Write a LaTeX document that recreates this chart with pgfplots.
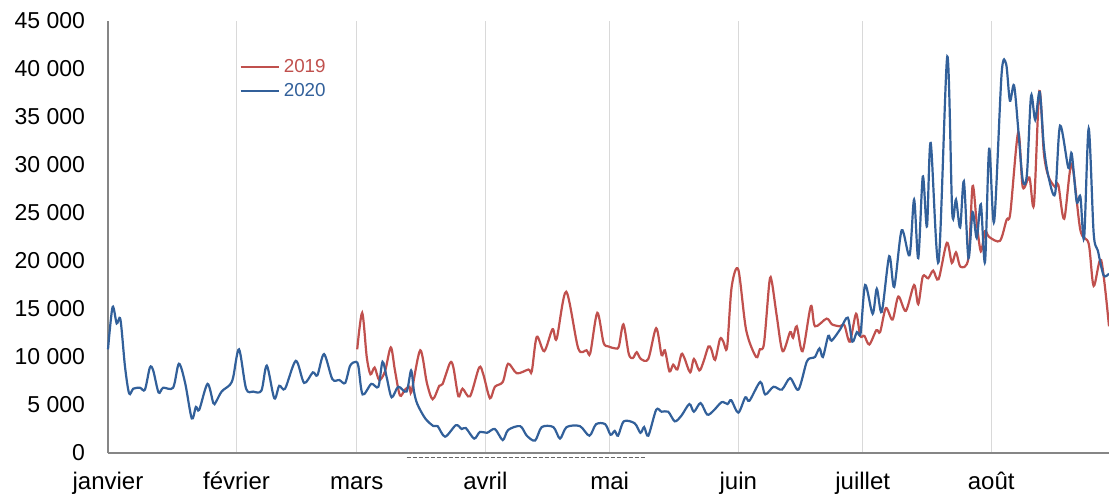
\documentclass[border=0pt]{standalone}
\usepackage{fontspec}
\setmainfont{Liberation Sans}
\usepackage{pgfplots}
\pgfplotsset{compat=1.18}
\definecolor{c19}{HTML}{C0504D}
\definecolor{c20}{HTML}{32609A}
\definecolor{gridc}{HTML}{D9D9D9}
\definecolor{axc}{HTML}{868686}
\begin{document}
\begin{tikzpicture}
\begin{axis}[
  scale only axis, width=500.5pt, height=216pt,
  xmin=0, xmax=241.4, ymin=0, ymax=45000,
  clip=false, scaled y ticks=false,
  axis x line=bottom, axis y line=left,
  axis line style={-, color=axc, line width=0.8pt},
  major tick length=0pt,
  xtick={0,31,60,91,121,152,182,213},
  xticklabels={janvier,février,mars,avril,mai,juin,juillet,août},
  ytick={0,5000,10000,15000,20000,25000,30000,35000,40000,45000},
  yticklabels={0,5 000,10 000,15 000,20 000,25 000,30 000,35 000,40 000,45 000},
  tick label style={font=\fontsize{12}{14}\selectfont, text=black},
  xticklabel style={text height=1.6ex, text depth=0.3ex, yshift=-6.5pt},
  yticklabel style={font=\fontsize{11.5}{14}\selectfont, xshift=-8pt},
  xmajorgrids, grid style={gridc, line width=0.6pt},
  legend style={draw=none, fill=none, at={(axis cs:30.2,41900)}, anchor=north west,
    font=\fontsize{9.4}{10}\selectfont, row sep=0pt},
  legend image code/.code={\draw[#1, line width=1.1pt, sharp plot] (0pt,0pt) -- (19pt,0pt);},
  legend cell align=left,
  every axis plot/.append style={line width=1.1pt, smooth, tension=0.5},
]
\addplot[c19] coordinates {
(60.1,10800)(61.3,14600)(62.4,10000)(63.3,8200)(64.3,8900)(65.4,7600)(66.8,8500)(68.2,11000)
(69.2,8600)(70.4,6000)(71.6,6600)(72.7,6900)(73.2,6400)(75.3,10700)(76.9,7300)(78.3,5600)
(79.9,7000)(80.7,7200)(82.5,9400)(83.3,8900)(84.5,5900)(85.5,6700)(87.3,5900)(89.5,8900)
(90.5,8200)(92.1,5700)(93.3,6900)(95.2,7400)(96.5,9300)(98.6,8300)(101.4,8700)(102.2,8500)
(103.4,12100)(105.2,10600)(107.2,12900)(108.2,11900)(110.5,16800)(113.4,10900)(115.4,10700)
(116.3,10400)(118,14600)(119.5,11500)(120.7,11100)(122.3,10900)(123.2,11100)(124.3,13400)
(125.6,10300)(126.6,9900)(127.5,10500)(128.5,9800)(130.3,9800)(132.2,13000)(133.5,10200)
(134.3,10700)(135.4,8500)(136.3,9200)(137.3,8700)(138.3,10300)(139,9900)(140.4,8400)
(141.3,9800)(142.6,8600)(143.6,9500)(144.8,11100)(145.5,10800)(146.4,9700)(147.6,11900)
(148.4,11600)(149.3,11000)(150.4,17300)(152,19100)(153.9,12800)(156.3,10000)(157.2,10800)
(158.2,11400)(159.5,17800)(160.1,17800)(161.3,14200)(162.7,10600)(164.5,12600)(165.2,12000)
(166.1,13200)(167.5,10600)(169.5,15300)(170.5,13200)(173.3,14000)(174.6,13400)(176.5,13200)
(177.6,13300)(178.9,11600)(180.4,14500)(181.4,12200)(182.4,12200)(183.6,11300)(185.3,12800)
(186.2,12600)(187.6,15100)(189.2,13900)(190.6,16300)(192.4,14800)(194.4,17500)(195.4,15500)
(196.5,18400)(197.8,18200)(199,19000)(200.3,18100)(202.3,21900)(203.5,19800)(204.5,20900)
(205.6,19400)(207.5,20300)(208.5,27800)(209.5,24000)(210.5,21000)(211.5,23100)(212.5,22500)
(215.1,22100)(216.7,24300)(217.6,25000)(219.5,33400)(220.6,27700)(222.2,28700)(223.3,25900)
(224.6,37700)(225.7,31200)(226.8,28800)(228.4,27700)(229.2,27900)(230.6,24400)(232.4,30100)
(234.5,23200)(236.5,21800)(237.7,17400)(239.5,20100)(241.4,13200)
};
\addlegendentry{\textcolor{c19}{2019}}
\addplot[c20] coordinates {
(0,10800)(1.1,15200)(2.1,13500)(3,13900)(4.1,9000)(5.1,6200)(6.1,6700)(7.7,6800)(8.9,6600)
(10.1,8900)(10.9,8600)(12.2,6300)(13.3,6800)(15.7,6800)(17.1,9300)(18.6,7300)(20.2,3600)
(21.2,4800)(22,4500)(24,7200)(25.4,5200)(26,5300)(27.4,6400)(29.4,7100)(30.2,7900)(31.6,10800)
(33.3,6700)(35,6400)(37,6500)(38.3,9100)(40.1,5700)(41.3,7000)(42.7,6700)(45.3,9600)(47.3,7300)
(49.4,8400)(50.5,8100)(52.1,10300)(54.1,7700)(55.8,7600)(57.2,7300)(58.4,9100)(59.8,9500)
(60.4,9000)(61.4,6100)(63.5,7200)(65.2,6900)(66.2,9500)(67.2,7900)(68.4,5800)(70,6900)
(72,6400)(73.1,8600)(73.8,6400)(74.6,5100)(76.5,3600)(78.5,2800)(79.5,2800)(81.3,1700)
(83.9,2900)(85.3,2500)(86.3,2600)(88.3,1500)(89.7,2200)(91.4,2100)(93.3,2500)(95.2,1350)
(96.5,2400)(99.4,2800)(101,1800)(103,1300)(104.6,2700)(107.4,2700)(109,1500)(110.6,2700)
(113.8,2800)(116.1,1800)(117.7,3000)(119.9,3000)(121.2,1900)(122.2,2300)(123,1800)(124.4,3300)
(127,3100)(128.4,2100)(129.3,2700)(130.3,1800)(132.2,4500)(133.5,4300)(135.1,4300)(136.7,3300)
(138.3,3900)(140.2,5100)(141.3,4300)(142.9,5200)(144.5,4000)(146,4400)(148,5300)(149.4,5100)
(150.3,5500)(152,4200)(153.7,5800)(154.7,5450)(157.3,7400)(158.5,6100)(160.5,6900)(162.5,6600)
(164.5,7800)(166.5,6600)(168.5,9500)(169.7,9900)(170.5,10000)(171.6,10900)(172.4,10000)
(173.7,12200)(174.5,11700)(176.6,12900)(178.4,14100)(179.5,11600)(180.6,12600)(181.5,12500)
(182.6,17500)(184.4,14500)(185.4,17100)(186.6,14700)(188.4,20500)(189.6,17300)(191.4,23200)
(193.3,20600)(194.4,26400)(195.4,20300)(196.5,28800)(197.5,23600)(198.4,32300)(200.3,19900)
(202.4,41300)(203.6,25000)(204.5,26400)(205.5,23500)(206.4,28300)(207.5,20300)(208.5,25100)
(209.5,22400)(210.5,25900)(211.5,19900)(212.5,31700)(213.7,24100)(215.5,39500)(216.6,40500)
(217.5,36700)(218.5,38300)(219.5,33800)(220.6,28400)(221.6,29000)(222.6,37200)(223.6,34700)
(224.7,37600)(225.7,31900)(226.8,28800)(228.4,27000)(229.6,34100)(231.6,29700)(232.4,31200)
(233.6,26200)(234.5,26700)(235.4,22400)(236.5,33800)(237.7,22900)(238.7,21100)(240.1,18500)
(241.4,18700)
};
\addlegendentry{\textcolor{c20}{2020}}
\addplot[forget plot, sharp plot, line width=0.5pt, color=black!60, dash pattern=on 2pt off 1pt] coordinates {(72,-420)(129.5,-420)};
\end{axis}
\pgfresetboundingbox
\path[use as bounding box] (-54pt,-20pt) rectangle (500.5pt,226.5pt);
\end{tikzpicture}
\end{document}
